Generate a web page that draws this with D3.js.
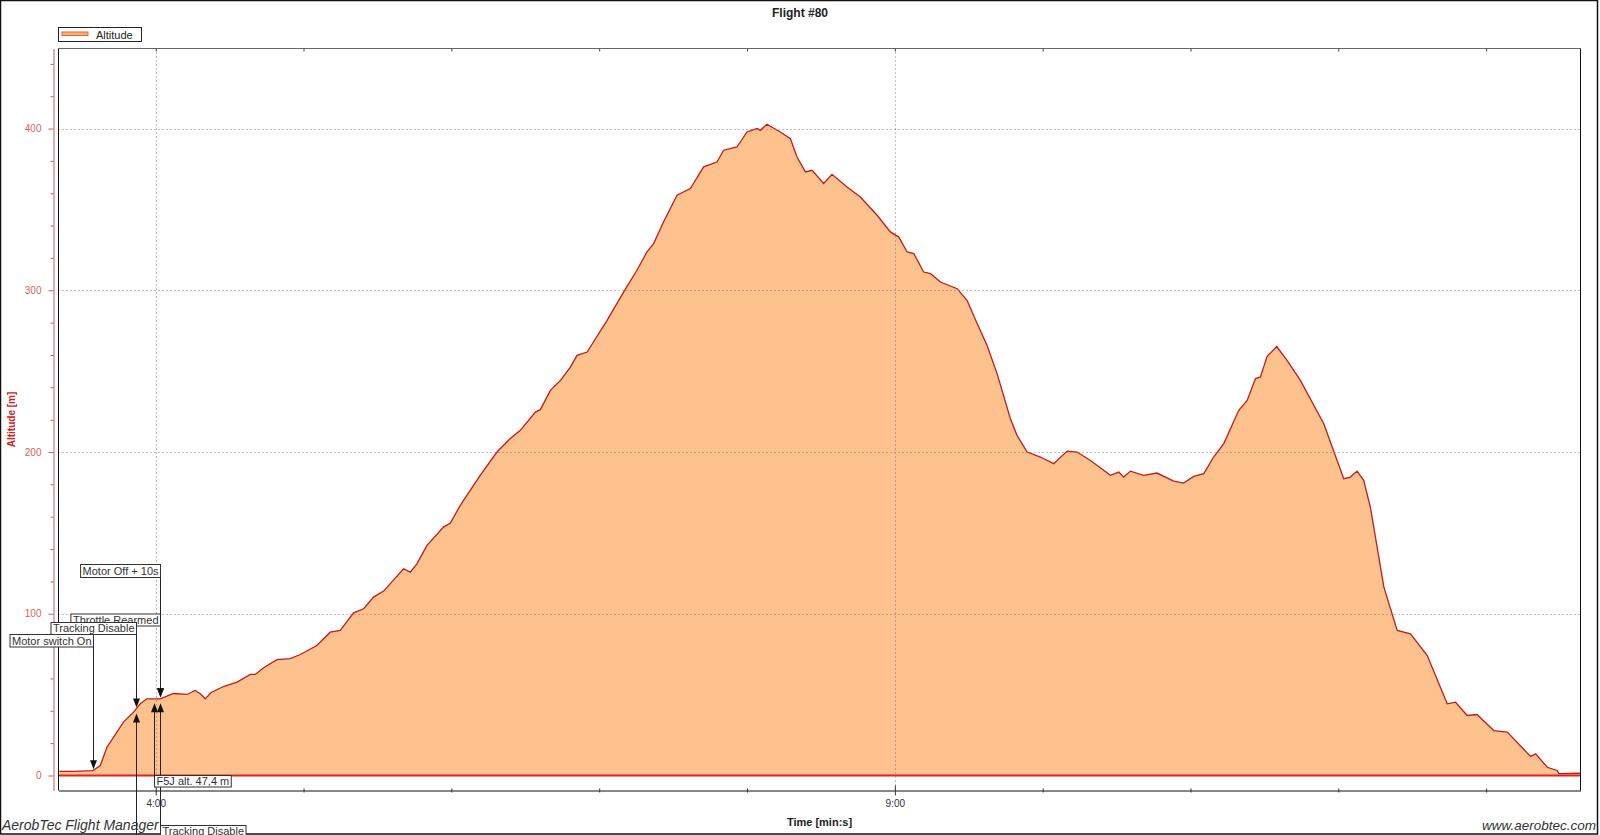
<!DOCTYPE html>
<html><head><meta charset="utf-8">
<script src="https://cdn.jsdelivr.net/npm/d3@7/dist/d3.min.js"></script>
<style>html,body{margin:0;padding:0;background:#fff;overflow:hidden}svg{display:block;font-family:"Liberation Sans",Arial,sans-serif}</style>
</head><body><svg id="c" width="1600" height="835"></svg>
<script>
// ---------- data ----------
const chartTitle = "Flight #80";
const seriesName = "Altitude";
const xTitle = "Time [min:s]";
const yTitle = "Altitude [m]";
const timeSec = [200.9,207,214.5,217.5,220.2,222.9,226.9,231.0,233.7,236.4,241.8,247.2,252.7,256.0,258.1,260.1,262.5,267.5,273.0,278.4,280.4,283.8,289.2,294.6,298.7,305.4,310.8,314.9,320.3,324.4,328.4,332.5,340.6,343.3,346.0,350.1,356.8,359.6,363.6,371.7,378.5,383.9,388.0,394.1,396.1,400.2,404.3,408.3,411.0,415.1,423.2,429.9,435.3,439.4,442.1,446.1,451.6,457.0,462.4,467.8,470.5,475.9,480.0,484.1,485.4,488.1,493.5,497.6,500.3,503.7,506.4,511.1,514.5,520.6,526.0,532.8,538.2,541.6,545.0,547.7,551.7,554.5,558.5,565.3,569.3,573.4,577.4,581.5,586.9,589.6,593.7,599.1,604.5,609.9,614.0,619.4,627.5,630.9,632.9,635.6,641.0,646.4,653.2,657.2,661.3,665.4,669.4,673.5,679.6,683.0,686.4,688.4,691.1,695.0,699.2,704.6,714.1,722.2,724.9,727.6,730.3,733.0,738.5,743.9,749.3,756.1,764.2,767.6,772.3,776.3,783.1,788.6,798.0,800.1,804.8,808.8,809.5,818.3];
const altitudeM = [2.5,2.6,3.0,6.2,17.5,23.7,33.0,39.2,44.3,47.4,47.4,50.7,50.1,52.6,50.5,47.4,51.3,55.0,57.7,62.5,62.5,66.6,71.6,72.2,74.8,80.4,88.6,89.7,100.6,103.1,110.3,114.0,127.8,125.7,130.9,142.3,153.6,156.1,167.0,185.6,200.0,208.3,213.4,224.7,226.2,238.1,244.3,252.5,259.8,261.8,281.4,298.9,312.4,323.7,328.9,342.2,358.8,362.9,376.3,379.3,386.6,388.6,397.9,400.0,398.9,402.7,397.9,393.8,382.4,373.2,374.2,366.0,371.7,363.9,357.7,346.4,336.1,332.9,323.7,322.7,311.3,310.3,305.1,301.0,293.8,279.4,266.0,248.5,220.6,210.3,200.0,196.9,192.8,200.6,200.0,194.8,185.6,187.6,184.5,188.2,185.6,187.0,182.0,180.8,184.9,186.6,196.9,205.2,225.8,231.9,245.4,246.4,259.2,265.2,256.7,244.3,217.5,183.5,184.5,188.2,182.5,166.0,116.5,89.7,87.6,74.2,44.3,45.3,37.1,37.7,27.8,26.8,11.8,13.4,5.1,3.1,1.1,1.4];
const xTickSec = [240,300,360,420,480,540,600,660,720,780];
const xLabelSec = [240,540];
const yTickM = [0,20,40,60,80,100,120,140,160,180,200,220,240,260,280,300,320,340,360,380,400,420,440];
const yLabelM = [0,100,200,300,400];
const eventLabel = ["Throttle Rearmed","Motor Off + 10s","Tracking Disable","Motor switch On","Tracking Disable","F5J alt. 47,4 m",""];
const eventTimeSec = [241.8,241.8,232.0,214.5,241.8,239.1,232.0];
const eventDir = ["down","down","down","down","up","up","up"];

// ---------- layout / style ----------
const plot = {left:58.5, right:1580.5, top:48.5, bottom:790.5};
const labelLayout = [
  {side:"right", top:614, h:12},
  {side:"right", top:564.5, h:13},
  {side:"right", top:622.5, h:12},
  {side:"right", top:634.5, h:12.5},
  {side:"left",  top:825.5, h:12},
  {side:"left",  top:775.5, h:11.5},
  {side:"none",  top:836, h:0}
];
const fillColor = "#fdc28d", lineColor = "#c41a1a", zeroColor = "#e3221b", axisRed = "#c85a5a", labelRed = "#e06060";

const svg = d3.select("#c");
const x = d3.scaleLinear().domain([200.54, 818.3]).range([plot.left, plot.right]);
const y = d3.scaleLinear().domain([-9.28, 449.5]).range([plot.bottom, plot.top]);
const data = timeSec.map((t,i)=>({t, a:altitudeM[i]}));

// outer frame
svg.append("rect").attr("x",0.5).attr("y",0.5).attr("width",1597).attr("height",833.5)
  .attr("fill","#fff").attr("stroke","#111").attr("stroke-width",1.5);

// area + line
svg.append("path").datum(data)
  .attr("d", d3.area().x(d=>x(d.t)).y0(y(0)).y1(d=>y(d.a)))
  .attr("fill", fillColor);
svg.append("line").attr("x1",plot.left).attr("x2",plot.right).attr("y1",y(0)).attr("y2",y(0))
  .attr("stroke",zeroColor).attr("stroke-width",2);
svg.append("path").datum(data)
  .attr("d", d3.line().x(d=>x(d.t)).y(d=>y(d.a)))
  .attr("fill","none").attr("stroke",lineColor).attr("stroke-width",1.3);

// grid
svg.append("g").selectAll("line").data(yLabelM.filter(v=>v>0)).join("line")
  .attr("x1",plot.left).attr("x2",plot.right)
  .attr("y1",d=>Math.round(y(d))+0.5).attr("y2",d=>Math.round(y(d))+0.5)
  .attr("stroke","#a07070").attr("stroke-dasharray","1,3");
svg.append("g").selectAll("line").data(xLabelSec).join("line")
  .attr("x1",d=>Math.round(x(d))+0.5).attr("x2",d=>Math.round(x(d))+0.5)
  .attr("y1",plot.top).attr("y2",plot.bottom)
  .attr("stroke","#777").attr("stroke-dasharray","1,3");

// plot frame
svg.append("line").attr("x1",plot.left).attr("x2",plot.right).attr("y1",plot.top).attr("y2",plot.top).attr("stroke","#666");
svg.append("line").attr("x1",plot.left).attr("x2",plot.left).attr("y1",plot.top).attr("y2",plot.bottom).attr("stroke","#111");
svg.append("line").attr("x1",plot.right).attr("x2",plot.right).attr("y1",plot.top).attr("y2",plot.bottom).attr("stroke","#111");

// x axis
const fmt = s => Math.floor(s/60)+":"+String(Math.round(s%60)).padStart(2,"0");
const xAxis = d3.axisBottom(x).tickValues(xTickSec).tickSizeOuter(0).tickSizeInner(0).tickPadding(9)
  .tickFormat(d => xLabelSec.includes(d) ? fmt(d) : "");
const gx = svg.append("g").attr("transform",`translate(0,${plot.bottom})`).call(xAxis);
gx.select(".domain").attr("stroke","#111");
gx.selectAll(".tick line").attr("y1",d=>xLabelSec.includes(d)?-5:-2).attr("y2",d=>xLabelSec.includes(d)?5:2).attr("stroke","#333");
gx.selectAll("text").attr("fill","#333").style("font-size","10px").style("font-family",'"Liberation Sans",Arial,sans-serif');
// top ticks
const xTop = d3.axisTop(x).tickValues(xTickSec).tickSizeOuter(0).tickSizeInner(-3).tickFormat("");
const gxt = svg.append("g").attr("transform",`translate(0,${plot.top})`).call(xTop);
gxt.select(".domain").remove();
gxt.selectAll(".tick line").attr("stroke","#444");

// y axis
const yAxis = d3.axisLeft(y).tickValues(yTickM).tickSizeOuter(0).tickSizeInner(5).tickPadding(7)
  .tickFormat(d => yLabelM.includes(d) ? d : "");
const gy = svg.append("g").attr("transform","translate(53.5,0)").call(yAxis);
gy.select(".domain").attr("stroke",axisRed);
gy.selectAll(".tick line").attr("stroke",axisRed).attr("x2",d=>yLabelM.includes(d)?-5:-3);
gy.selectAll("text").attr("fill",labelRed).style("font-size","10px").style("font-family",'"Liberation Sans",Arial,sans-serif');

// titles
svg.append("text").attr("x",800).attr("y",17).attr("text-anchor","middle")
  .attr("font-weight","bold").attr("font-size",12).attr("fill","#222").text(chartTitle);
svg.append("text").attr("x",(plot.left+plot.right)/2).attr("y",826).attr("text-anchor","middle")
  .attr("font-weight","bold").attr("font-size",11).attr("fill","#222").text(xTitle);
svg.append("text").attr("transform",`translate(15,${(plot.top+plot.bottom)/2}) rotate(-90)`).attr("text-anchor","middle")
  .attr("font-weight","bold").attr("font-size",10).attr("fill","#d42020").text(yTitle);

// legend
svg.append("rect").attr("x",58.5).attr("y",27.5).attr("width",83).attr("height",14).attr("fill","#fff").attr("stroke","#222");
svg.append("rect").attr("x",62).attr("y",32).attr("width",26).attr("height",3.5).attr("fill","#f9b27a").attr("stroke","#e2692e").attr("stroke-width",1);
svg.append("text").attr("x",96).attr("y",38.5).attr("font-size",11).attr("fill","#222").text(seriesName);

// annotations
const bis = d3.bisector(d=>d).left;
function altAt(t){
  const i = Math.max(1, Math.min(timeSec.length-1, bis(timeSec,t)));
  const t0=timeSec[i-1], t1=timeSec[i], a0=altitudeM[i-1], a1=altitudeM[i];
  return a0 + (a1-a0)*(t-t0)/(t1-t0);
}
const ann = svg.append("g");
eventLabel.forEach((lab,i)=>{
  const L = labelLayout[i];
  const ex = Math.round(x(eventTimeSec[i]))+0.5;
  const cy = y(altAt(eventTimeSec[i]));
  const down = eventDir[i]==="down";
  const tip = down ? cy-1.5 : cy+4.5;
  let bx=ex, bw=0;
  let t=null;
  if(lab){
    t = ann.append("text").attr("font-size",11).attr("fill","#333").text(lab);
    bw = t.node().getComputedTextLength()+4;
    bx = L.side==="right" ? ex-bw : ex;
  }
  // connector
  const lineFrom = down ? L.top+L.h : (lab ? L.top : 836);
  ann.append("line").attr("x1",ex).attr("x2",ex).attr("y1",lineFrom).attr("y2",down?tip-8:tip+8).attr("stroke","#222");
  ann.append("path").attr("d", down
    ? `M${ex-3.5},${tip-9}L${ex+3.5},${tip-9}L${ex},${tip}Z`
    : `M${ex-3.5},${tip+9}L${ex+3.5},${tip+9}L${ex},${tip}Z`).attr("fill","#111");
  if(lab){
    ann.insert("rect", () => t.node()).attr("x",bx).attr("y",L.top).attr("width",bw).attr("height",L.h)
      .attr("fill","#fff").attr("stroke","#333");
    t.attr("x",bx+2).attr("y",L.top+L.h-2.5);
  }
});

// watermarks
svg.append("text").attr("x",2).attr("y",830).attr("font-style","italic").attr("font-size",14).attr("fill","#333").text("AerobTec Flight Manager");
svg.append("text").attr("x",1596).attr("y",830).attr("text-anchor","end").attr("font-style","italic").attr("font-size",13.5).attr("fill","#333").text("www.aerobtec.com");
</script></body></html>
